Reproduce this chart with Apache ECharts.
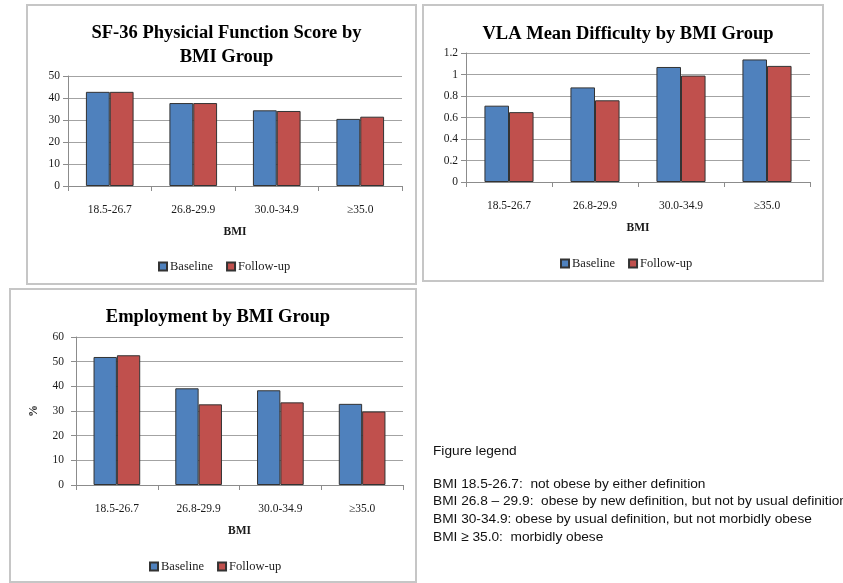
<!DOCTYPE html>
<html>
<head>
<meta charset="utf-8">
<script src="https://cdn.jsdelivr.net/npm/echarts@6/dist/echarts.min.js"></script>
<style>
  html, body { margin: 0; padding: 0; background: #ffffff; }
  #main { width: 843px; height: 583px; }
</style>
</head>
<body>
<div id="main"></div>
<script>
// BMI groups shared by all three panels
const bmiGroups = ['18.5-26.7', '26.8-29.9', '30.0-34.9', '≥35.0'];
const seriesNames = ['Baseline', 'Follow-up'];

// SF-36 physical function score
const sf36Baseline = [42.8, 37.7, 34.4, 30.5];
const sf36FollowUp = [42.8, 37.7, 34.1, 31.5];

// VLA mean difficulty
const vlaBaseline = [0.71, 0.88, 1.07, 1.14];
const vlaFollowUp = [0.65, 0.76, 0.99, 1.08];

// Employment (%)
const empBaseline = [51.9, 39.2, 38.4, 32.9];
const empFollowUp = [52.6, 32.7, 33.5, 29.8];

// Value axis ranges: [min, max, interval]
const sf36Axis = [0, 50, 10];
const vlaAxis = [0, 1.2, 0.2];
const empAxis = [0, 60, 10];

const panelTitles = [
  'SF-36 Physicial Function Score by\nBMI Group',
  'VLA Mean Difficulty by BMI Group',
  'Employment by BMI Group'
];

const legendNotes = [
  'Figure legend',
  'BMI 18.5-26.7:  not obese by either definition',
  'BMI 26.8 \u2013 29.9:  obese by new definition, but not by usual definition',
  'BMI 30-34.9: obese by usual definition, but not morbidly obese',
  'BMI \u2265 35.0:  morbidly obese'
];

const SERIF = '"Liberation Serif", "Times New Roman", serif';
const TEXT = '#1a1a1a';
const GRID_LINE = '#a3a3a3';
const AXIS_LINE = '#8c8c8c';
const BLUE = '#4F81BD';
const RED = '#C0504D';
const BAR_EDGE = '#333333';

const chart = echarts.init(document.getElementById('main'), null, { renderer: 'canvas' });

// Panel frames and grid layout
const panels = [
  { box: [27, 5, 389, 279], grid: { left: 68, top: 76, width: 334, height: 110 },
    titleTop: 16, titleLH: 24, legendLeft: 158, legendTop: 260, axis: sf36Axis,
    data: [sf36Baseline, sf36FollowUp], yName: '', labelMargin: 8 },
  { box: [423, 5, 400, 276], grid: { left: 466, top: 53, width: 344, height: 129 },
    titleTop: 18, titleLH: 22, legendLeft: 560, legendTop: 257, axis: vlaAxis,
    data: [vlaBaseline, vlaFollowUp], yName: '', labelMargin: 8 },
  { box: [10, 289, 406, 293], grid: { left: 76, top: 337, width: 327, height: 148 },
    titleTop: 301, titleLH: 22, legendLeft: 149, legendTop: 560, axis: empAxis,
    data: [empBaseline, empFollowUp], yName: '%', labelMargin: 12 }
];

const fmt = v => String(+v.toFixed(1));

const option = {
  backgroundColor: '#ffffff',
  animation: false,
  title: panels.map((p, i) => ({
    text: panelTitles[i],
    left: p.box[0] + p.box[2] / 2,
    top: p.titleTop,
    textAlign: 'center',
    textStyle: { fontFamily: SERIF, fontWeight: 'bold', fontSize: 18.5, color: '#000', lineHeight: p.titleLH }
  })),
  legend: panels.map((p, i) => ({
    data: seriesNames,
    left: p.legendLeft,
    top: p.legendTop,
    orient: 'horizontal',
    icon: 'rect',
    itemWidth: 8,
    itemHeight: 8,
    itemGap: 13,
    padding: 0,
    textStyle: { fontFamily: SERIF, fontSize: 12.5, color: TEXT, padding: [0, 0, 0, -2] }
  })),
  grid: panels.map(p => Object.assign({ outerBoundsMode: 'none', containLabel: false }, p.grid)),
  xAxis: panels.map((p, i) => ({
    type: 'category',
    gridIndex: i,
    data: bmiGroups,
    name: 'BMI',
    nameLocation: 'middle',
    nameGap: 40,
    nameTextStyle: { fontFamily: SERIF, fontWeight: 'bold', fontSize: 11.5, color: TEXT },
    axisLine: { show: true, lineStyle: { color: AXIS_LINE, width: 1 } },
    axisTick: { show: true, alignWithLabel: false, length: 5, lineStyle: { color: AXIS_LINE } },
    axisLabel: { margin: 18, fontFamily: SERIF, fontSize: 11.5, color: TEXT, interval: 0 },
    splitLine: { show: false }
  })),
  yAxis: panels.map((p, i) => ({
    type: 'value',
    gridIndex: i,
    min: p.axis[0],
    max: p.axis[1],
    interval: p.axis[2],
    name: p.yName,
    nameLocation: 'middle',
    nameGap: 36,
    nameRotate: 90,
    nameTextStyle: { fontFamily: SERIF, fontWeight: 'bold', fontSize: 12, color: TEXT },
    axisLine: { show: true, lineStyle: { color: AXIS_LINE, width: 1 } },
    axisTick: { show: true, inside: false, length: 5, lineStyle: { color: AXIS_LINE } },
    axisLabel: { margin: p.labelMargin, fontFamily: SERIF, fontSize: 11.5, color: TEXT, formatter: fmt },
    splitLine: { show: true, lineStyle: { color: GRID_LINE, width: 1 } }
  })),
  series: [],
  graphic: []
};

panels.forEach((p, i) => {
  p.data.forEach((values, k) => {
    option.series.push({
      type: 'bar',
      name: seriesNames[k],
      xAxisIndex: i,
      yAxisIndex: i,
      data: values,
      barGap: '0%',
      barCategoryGap: '42.9%',
      itemStyle: { color: k === 0 ? BLUE : RED, borderColor: BAR_EDGE, borderWidth: 1 },
      emphasis: { disabled: true }
    });
  });
  option.graphic.push({
    type: 'rect',
    silent: true,
    z: -1,
    shape: { x: p.box[0], y: p.box[1], width: p.box[2], height: p.box[3] },
    style: { fill: null, stroke: '#c6c6c6', lineWidth: 2 }
  });
});

// Figure legend notes beside the employment panel
const noteY = [451, 484, 501.5, 519, 537];
legendNotes.forEach((line, i) => {
  option.graphic.push({
    type: 'text',
    silent: true,
    x: 433,
    y: noteY[i],
    style: {
      text: line,
      fontFamily: '"Liberation Sans", Arial, sans-serif',
      fontSize: 13.7,
      fill: '#111111',
      verticalAlign: 'middle',
      align: 'left'
    }
  });
});

chart.setOption(option);
</script>
</body>
</html>
